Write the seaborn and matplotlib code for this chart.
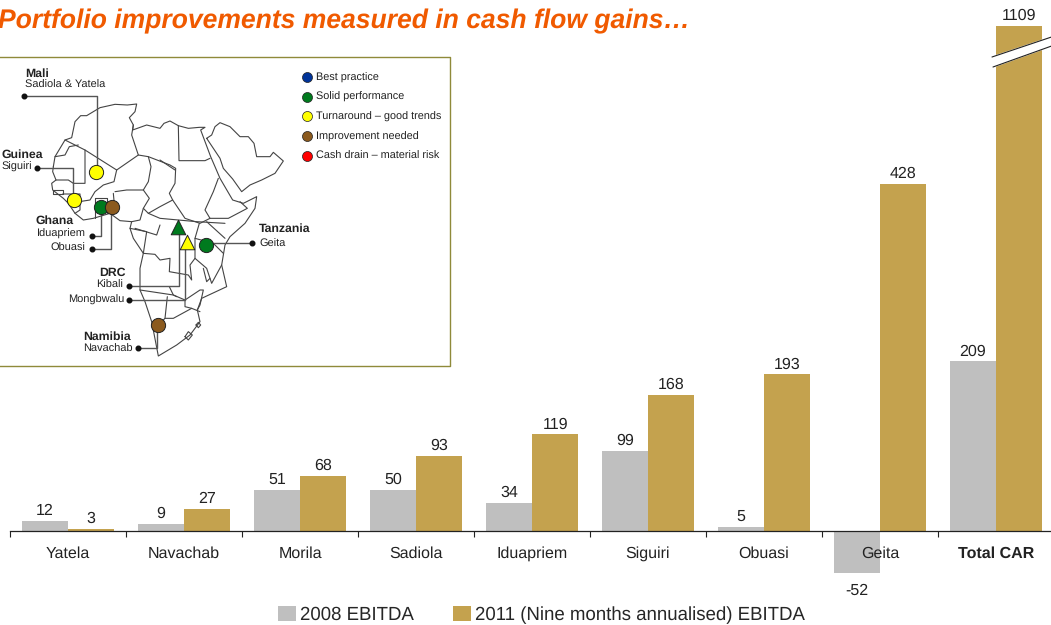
import numpy as np
import pandas as pd
import matplotlib
matplotlib.use("Agg")
import matplotlib.pyplot as plt
import seaborn as sns

mines = ["Yatela", "Navachab", "Morila", "Sadiola", "Iduapriem", "Siguiri", "Obuasi", "Geita", "Total CAR"]
ebitda_2008 = [12, 9, 51, 50, 34, 99, 5, -52, 209]
ebitda_2011 = [3, 27, 68, 93, 119, 168, 193, 428, 1109]
series_names = ["2008 EBITDA", "2011 (Nine months annualised) EBITDA"]
title = "Portfolio improvements measured in cash flow gains\u2026"

# status legend of the map
status_labels = ["Best practice", "Solid performance", "Turnaround \u2013 good trends",
                 "Improvement needed", "Cash drain \u2013 material risk"]
status_colors = ["#003399", "#007A1E", "#FFFF00", "#8B5A1E", "#FF0000"]

# map outline (3x crop coordinates)
coast = [(160, 350), (165, 320), (195, 270), (215, 263), (225, 215), (242, 197), (260, 197), (300, 173),
         (345, 163), (382, 165), (410, 162), (405, 185), (388, 203), (400, 225), (398, 240), (440, 225),
         (480, 235), (492, 220), (510, 213), (535, 227), (565, 235), (598, 232), (615, 232), (602, 240),
         (632, 320), (645, 350), (660, 385), (688, 433), (698, 450), (730, 460), (770, 440), (765, 475),
         (735, 520), (690, 560), (675, 585), (665, 645), (680, 710), (605, 745), (592, 780), (600, 815),
         (570, 855), (530, 885), (475, 918), (455, 815), (435, 755), (420, 720), (420, 655), (430, 610),
         (400, 565), (390, 535), (395, 515), (360, 512), (330, 490), (280, 505), (250, 510), (225, 490),
         (205, 460), (190, 445), (158, 420), (155, 400), (168, 390), (158, 365), (160, 350)]
arabia = [(620, 265), (635, 255), (645, 230), (660, 218), (690, 230), (720, 260), (745, 260), (762, 280),
          (770, 320), (810, 320), (820, 307), (850, 333), (825, 370), (785, 390), (750, 405), (725, 425),
          (698, 387), (670, 355), (660, 325), (620, 265)]
borders = [
    [(195, 270), (255, 300), (350, 360), (415, 315), (395, 255), (400, 225)],
    [(165, 320), (195, 315), (208, 290), (235, 285)],
    [(255, 300), (255, 400), (220, 400), (205, 390), (168, 390)],
    [(350, 360), (342, 395), (310, 405), (285, 425), (270, 450), (205, 460)],
    [(160, 420), (188, 420), (188, 432), (160, 432), (160, 420)],
    [(188, 432), (240, 432), (240, 480), (225, 490)],
    [(415, 315), (445, 320), (453, 350), (445, 395), (430, 420), (380, 420), (345, 425)],
    [(430, 420), (448, 445), (430, 475), (420, 510), (395, 515)],
    [(445, 320), (510, 345), (527, 355), (525, 400), (508, 430), (518, 450), (555, 505), (600, 520),
     (630, 505), (685, 505), (742, 475), (720, 455)],
    [(535, 227), (537, 332), (615, 332), (630, 325)],
    [(480, 330), (525, 360)],
    [(655, 385), (640, 425), (615, 480), (630, 505)],
    [(430, 475), (445, 490), (480, 470), (518, 450)],
    [(285, 443), (320, 443), (320, 490)],
    [(285, 443), (285, 505)],
    [(340, 430), (345, 485)],
    [(445, 490), (480, 505), (590, 515), (675, 520)],
    [(405, 535), (470, 555), (480, 525)],
    [(390, 535), (440, 545), (430, 610), (465, 613), (480, 630), (510, 625), (508, 665), (565, 675),
     (575, 690), (570, 645), (585, 625), (585, 565), (598, 520)],
    [(420, 720), (520, 735), (530, 740)],
    [(502, 740), (495, 805), (475, 825)],
    [(495, 805), (520, 805), (575, 775), (600, 785)],
    [(508, 710), (520, 735), (555, 750), (555, 770), (575, 775)],
    [(555, 750), (600, 720), (610, 720), (600, 765), (592, 780)],
    [(585, 625), (620, 655), (635, 700), (665, 645)],
    [(610, 655), (620, 695), (630, 685)],
    [(585, 565), (640, 580), (670, 610)],
    [(620, 515), (675, 565)],
    [(555, 860), (565, 845), (577, 855), (565, 870), (555, 860)],
    [(588, 825), (595, 817), (602, 825), (595, 833), (588, 825)],
]

# leader lines and site markers (3x crop coordinates)
leaders = [
    [(72, 137), (290, 137), (290, 350)],
    [(110, 355), (220, 355), (220, 435)],
    [(275, 557), (302, 557), (302, 490)],
    [(275, 597), (333, 597), (333, 490)],
    [(388, 709), (537, 709), (537, 545)],
    [(388, 750), (555, 750), (555, 590)],
    [(415, 895), (472, 895), (472, 845)],
    [(755, 580), (635, 580)],
]
sites = [(289, 367, "#FFFF00", "o"), (223, 451, "#FFFF00", "o"), (302, 472, "#007A1E", "o"),
         (336, 470, "#8B5A1E", "o"), (617, 584, "#007A1E", "o"), (473, 826, "#8B5A1E", "o"),
         (535, 530, "#007A1E", "^"), (561, 577, "#FFFF00", "^")]
map_labels = [
    (75, 72, "Mali", "bold", "left"), (75, 105, "Sadiola & Yatela", "normal", "left"),
    (3, 315, "Guinea", "bold", "left"), (3, 352, "Siguiri", "normal", "left"),
    (105, 513, "Ghana", "bold", "left"), (257, 553, "Iduapriem", "normal", "right"),
    (257, 595, "Obuasi", "normal", "right"),
    (778, 537, "Tanzania", "bold", "left"), (778, 582, "Geita", "normal", "left"),
    (298, 668, "DRC", "bold", "left"), (370, 706, "Kibali", "normal", "right"),
    (372, 751, "Mongbwalu", "normal", "right"),
    (250, 861, "Namibia", "bold", "left"), (250, 898, "Navachab", "normal", "left"),
]

sns.set_theme(style="white")
plt.rcParams["font.family"] = ["Liberation Sans", "DejaVu Sans"]
plt.rcParams["text.hinting"] = "none"

df = pd.DataFrame({
    "mine": mines * 2,
    "ebitda": ebitda_2008 + ebitda_2011,
    "series": [series_names[0]] * len(mines) + [series_names[1]] * len(mines),
})

# y axis is broken above 580, the Total CAR bar is squeezed into the rest
BREAK = 580.0
SQUEEZE = 43.0 / 529.0

def forward(v):
    v = np.asarray(v, dtype=float)
    return np.where(v <= BREAK, v, BREAK + (v - BREAK) * SQUEEZE)

def inverse(v):
    v = np.asarray(v, dtype=float)
    return np.where(v <= BREAK, v, BREAK + (v - BREAK) / SQUEEZE)

fig = plt.figure(figsize=(10.51, 6.25), dpi=100)
ax = fig.add_axes([10 / 1051, 0, 1041 / 1051, 1])
ax.set_yscale("function", functions=(forward, inverse))

sns.barplot(data=df, x="mine", y="ebitda", hue="series", order=mines, hue_order=series_names,
            palette=["#BFBFBF", "#C4A24E"], width=0.8, gap=0, saturation=1, linewidth=0, ax=ax)

ax.set_xlabel("")
ax.set_ylabel("")
ax.set_yticks([])
ax.set_axisbelow(False)
for side in ["top", "left", "right"]:
    ax.spines[side].set_visible(False)
ax.spines["bottom"].set_position(("data", 0))
ax.spines["bottom"].set_color("#222222")
ax.spines["bottom"].set_linewidth(0.9)

ax.set_xticks(np.arange(-0.5, 8.5, 1), labels=[])
ax.set_xticks(np.arange(len(mines)), labels=mines, minor=True)
ax.tick_params(axis="x", which="major", length=4, width=0.8, color="#222222", direction="out", bottom=True)
ax.tick_params(axis="x", which="minor", length=0, pad=11, labelsize=11.5, labelcolor="#222222")
ax.get_xticklabels(minor=True)[-1].set_fontweight("bold")
# limits last, set_xticks widens them otherwise
ax.set_xlim(-0.5, 8.474)
ax.set_ylim(-115.9, float(inverse(654.7)))

for container in ax.containers:
    for ann in ax.bar_label(container, fontsize=11.5, color="#222222", padding=2):
        if ann.get_text().startswith("-"):
            ann.xyann = (0, -7)

ax.legend(loc="lower left", bbox_to_anchor=(264 / 1041, -0.004), ncol=2, frameon=False, fontsize=13.4,
          handlelength=0.97, handleheight=0.85, handletextpad=0.22, columnspacing=2.1, borderpad=0.2,
          borderaxespad=0)

# overlay in picture pixels for the title, map panel and axis break
over = fig.add_axes([0, 0, 1, 1], facecolor="none")
over.set_xlim(0, 1051)
over.set_ylim(625, 0)
over.axis("off")

over.text(-2, 28, title, color="#F05A00", fontsize=19.1, fontweight="bold", fontstyle="italic",
          ha="left", va="baseline")

def crop(points):
    pts = np.array(points, dtype=float)
    return pts[:, 0] / 3, 50 + pts[:, 1] / 3

over.plot([-5, 450, 450, -5], [57, 57, 366, 366], color="#8F8A3A", lw=1.0)

for shape in [coast, arabia] + borders:
    xs, ys = crop(shape)
    over.plot(xs, ys, color="#444444", lw=0.8)

for line in leaders:
    xs, ys = crop(line)
    over.plot(xs, ys, color="#555555", lw=1.0)
    over.scatter(xs[0], ys[0], s=11, color="#111111", zorder=4)

for sx, sy, color, marker in sites:
    xs, ys = crop([(sx, sy)])
    over.scatter(xs, ys, s=105 if marker == "o" else 110, color=color, marker=marker,
                 edgecolor="#222222", linewidth=0.7, zorder=5)

for lx, ly, text, weight, align in map_labels:
    xs, ys = crop([(lx, ly)])
    size = 8.8 if weight == "bold" else 7.9
    over.text(xs[0], ys[0], text, fontsize=size, fontweight=weight, ha=align, va="center", color="#222222")

for i, (label, color) in enumerate(zip(status_labels, status_colors)):
    y = [77, 96.5, 116, 136, 155.5][i]
    over.scatter(307, y, s=52, color=color, edgecolor="#222222", linewidth=0.5, zorder=5)
    over.text(315.5, y + 0.5, label, fontsize=7.8, va="center", color="#222222")

# break marks on the Total CAR bar
over.fill([992, 1053, 1053, 993], [57, 36.5, 45.5, 67], color="white", zorder=3)
over.plot([992, 1053], [57, 36.5], color="#222222", lw=0.8, zorder=4)
over.plot([993, 1053], [67, 45.5], color="#222222", lw=0.8, zorder=4)

fig.savefig("out.png", dpi=100)
